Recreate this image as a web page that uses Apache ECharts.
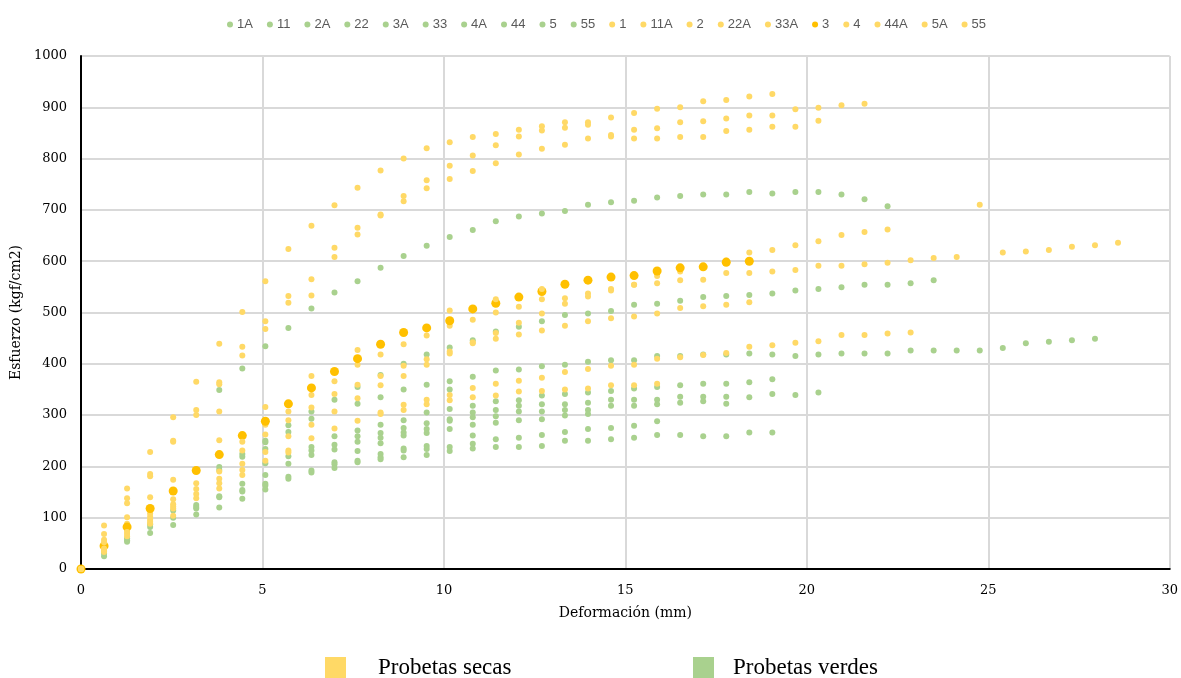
<!DOCTYPE html>
<html><head><meta charset="utf-8">
<script src="https://cdn.jsdelivr.net/npm/echarts/dist/echarts.min.js"></script>
<style>html,body{margin:0;padding:0;background:#fff}#c{width:1181px;height:678px}</style>
</head><body><div id="c"></div>
<script>
// x step between readings (mm)
const STEP = 0.635;
// tick labels
const xTicks = [0, 5, 10, 15, 20, 25, 30];
const yTicks = [0, 100, 200, 300, 400, 500, 600, 700, 800, 900, 1000];

// Probetas verdes (index = reading number, value = kgf/cm2)
const g1A = [0,null,null,null,null,null,349,391,434,470,508,539,561,587,610,630,647,661,678,687,693,698,710,715,718,724,727,730,730,735,732,735,735,730,721,707];
const g11 = [0,34,60,87,114,125,199,224,250,280,307,330,355,378,400,418,432,446,463,472,483,495,498,503,515,517,523,530,532,534,537,543,546,549,554,554,557,563];
const g2A = [0,30,56,82,100,121,193,219,247,267,293,null,322,335,350,359,366,375,387,389,395,398,404,407,407,415,415,418,418,420,418,415,418,420,420,420,426,426,426,426,431,440,443,446,449];
const g22 = [0,25,53,70,86,118,142,166,234,220,238,259,270,281,290,305,350,318,327,329,338,341,344,347,352,355,358,361,361,364,370];
const g3A = [0,null,null,null,null,106,140,154,206,205,231,242,259,265,275,284,312,305,310,318,321,321,324,330,330,330,336,336,336,335,341,339,344];
const g33 = [0,null,null,null,null,null,120,151,183,180,222,233,248,256,266,273,292,296,298,307,307,310,310,318,318,321,324,327,322];
const g4A = [0,null,null,null,null,null,null,137,166,176,192,208,230,245,260,265,289,281,285,290,292,299,302];
const g44 = [0,null,null,null,null,null,null,null,163,null,188,204,211,224,235,240,273,260,253,256,261,267,273,275,279,288];
const g5  = [0,null,null,null,null,null,null,null,155,null,null,197,208,218,231,234,238,244,238,238,240,250,250,253,256,261,261,259,259,266,266];
const g55 = [0,null,null,null,null,null,null,null,null,null,null,null,null,214,218,222,230,235];

// Probetas secas
const y1   = [0,85,157,228,296,365,439,501,561,624,669,709,743,777,800,820,832,842,848,856,863,871,871,880,889,897,900,912,914,921,926];
const y11A = [0,68,138,185,250,310,364,433,483,532,565,626,665,691,727,758,786,806,826,843,855,860,866,846,856,859,871,873,878,884,884,896,899,904,907];
const y2   = [0,57,128,181,248,300,360,416,468,519,533,608,652,689,717,742,760,776,791,808,819,827,839,843,839,839,842,842,854,856,862,862,874];
const y22A = [0,48,88,108,136,156,251,231,281,290,339,341,398,376,396,409,474,442,500,480,526,528,537,546,554,571,580,590,602,617,622,631,639,651,657,662];
const y33A = [0,43,76,102,126,146,190,205,262,259,315,307,359,358,376,398,424,440,460,457,498,517,531,543,554,557,563,564,577,577,580,583,591,591,594,597,602,606,608,710,617,619,622,628,631,636];
const y3   = [0,45,82,118,152,192,223,260,288,322,353,385,410,438,461,470,484,507,518,530,541,555,563,569,572,581,587,589,598,600];
const y4   = [0,40,72,96,122,138,176,193,228,231,281,274,333,305,320,330,420,353,449,367,465,474,483,489,492,498,509,512,515,520];
const y44A = [0,36,68,92,118,null,167,183,211,227,255,null,289,302,310,321,339,335,361,346,373,384,390,396,398,410,413,417,421,433,436,441,444,456,456,459,461];
const y5A  = [0,33,64,88,104,null,157,null,null,null,null,null,null,null,null,null,329,null,338,null,347,350,352,358,358,361];
const y55  = [0,52,101,140,174,167,307,248,316,307,376,366,427,418,438,455,504,486,526,511,546];

const GREEN = '#A9D18E', YELLOW = '#FFD966', GOLD = '#FFC000';

function pts(arr) {
  const out = [];
  arr.forEach((v, i) => { if (v !== null) out.push([+(i * STEP).toFixed(3), v]); });
  return out;
}

const defs = [
  ['1A', g1A, GREEN], ['11', g11, GREEN], ['2A', g2A, GREEN], ['22', g22, GREEN], ['3A', g3A, GREEN],
  ['33', g33, GREEN], ['4A', g4A, GREEN], ['44', g44, GREEN], ['5', g5, GREEN], ['55', g55, GREEN],
  ['1', y1, YELLOW], ['11A', y11A, YELLOW], ['2', y2, YELLOW], ['22A', y22A, YELLOW], ['33A', y33A, YELLOW],
  ['3', y3, GOLD], ['4', y4, YELLOW], ['44A', y44A, YELLOW], ['5A', y5A, YELLOW], ['55s', y55, YELLOW]
];

const series = defs.map(([name, arr, color]) => ({
  name: name,
  type: 'scatter',
  data: pts(arr),
  symbol: 'circle',
  symbolSize: name === '3' ? 9 : 6,
  itemStyle: { color: color, opacity: 1 },
  emphasis: { disabled: true },
  z: 2
}));

const SERIF = "'DejaVu Serif', 'Liberation Serif', serif";
const chart = echarts.init(document.getElementById('c'), null, { renderer: 'canvas' });
chart.setOption({
  animation: false,
  backgroundColor: '#fff',
  grid: { left: 81, right: 10, top: 56, bottom: 109, containLabel: false },
  legend: {
    data: defs.map(d => d[0]),
    top: 13, left: 222,
    icon: 'circle', itemWidth: 6, itemHeight: 6, itemGap: 14,
    formatter: n => (n === '55s' ? '55' : n),
    textStyle: { fontFamily: "'Liberation Sans Narrow', 'Liberation Sans', sans-serif", fontSize: 13, color: '#595959', padding: [0, 0, 0, -1] },
    selectedMode: false
  },
  xAxis: {
    type: 'value', min: xTicks[0], max: xTicks[xTicks.length - 1], interval: 5,
    name: 'Deformación (mm)', nameLocation: 'middle', nameGap: 37,
    nameTextStyle: { fontFamily: SERIF, fontSize: 14, color: '#000' },
    axisLine: { show: true, lineStyle: { color: '#000', width: 2 } },
    axisTick: { show: false },
    axisLabel: { fontFamily: SERIF, fontSize: 13, color: '#000', margin: 15 },
    splitLine: { show: true, lineStyle: { color: '#d9d9d9', width: 2 } }
  },
  yAxis: {
    type: 'value', min: yTicks[0], max: yTicks[yTicks.length - 1], interval: 100,
    name: 'Esfuerzo (kgf/cm2)', nameLocation: 'middle', nameGap: 56, nameRotate: 90,
    nameTextStyle: { fontFamily: SERIF, fontSize: 14, color: '#000' },
    axisLine: { show: true, lineStyle: { color: '#000', width: 2 } },
    axisTick: { show: false },
    axisLabel: { fontFamily: SERIF, fontSize: 13, color: '#000', margin: 14, formatter: v => String(v) },
    splitLine: { show: true, lineStyle: { color: '#d9d9d9', width: 2 } }
  },
  graphic: [
    { type: 'rect', left: 325, top: 657, shape: { width: 21, height: 21 }, style: { fill: YELLOW } },
    { type: 'text', left: 378, top: 656, style: { text: 'Probetas secas', font: "23px 'Liberation Serif', serif", fill: '#000' } },
    { type: 'rect', left: 693, top: 657, shape: { width: 21, height: 21 }, style: { fill: GREEN } },
    { type: 'text', left: 733, top: 656, style: { text: 'Probetas verdes', font: "23px 'Liberation Serif', serif", fill: '#000' } }
  ],
  series: series
});
</script>
</body></html>
